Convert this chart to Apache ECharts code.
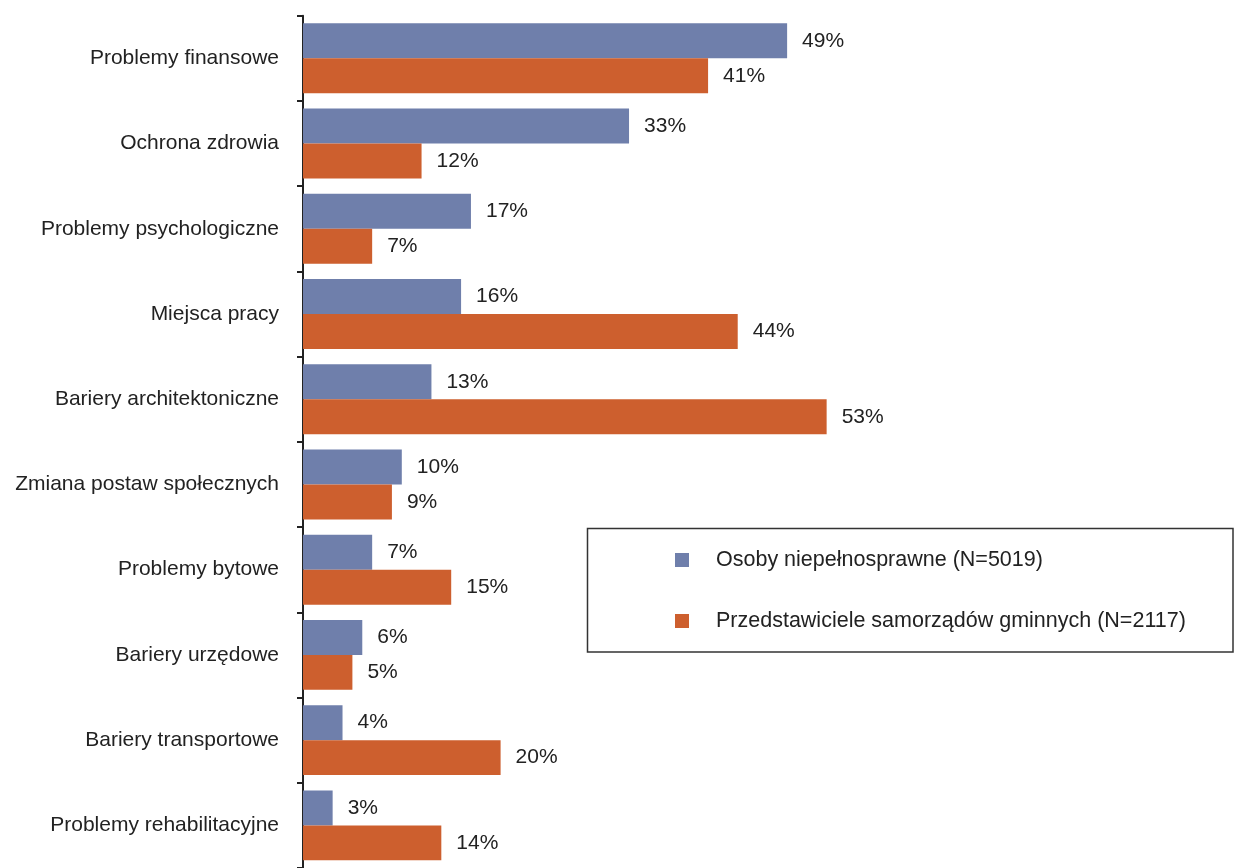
<!DOCTYPE html>
<html>
<head>
<meta charset="utf-8">
<script src="https://cdn.jsdelivr.net/npm/echarts@6/dist/echarts.min.js"></script>
<style>
html,body{margin:0;padding:0;background:#fff;}
#main{width:1235px;height:868px;}
</style>
</head>
<body>
<div id="main"></div>
<script>
var categories = [
  "Problemy finansowe",
  "Ochrona zdrowia",
  "Problemy psychologiczne",
  "Miejsca pracy",
  "Bariery architektoniczne",
  "Zmiana postaw społecznych",
  "Problemy bytowe",
  "Bariery urzędowe",
  "Bariery transportowe",
  "Problemy rehabilitacyjne"
];
var seriesNames = [
  "Osoby niepełnosprawne (N=5019)",
  "Przedstawiciele samorządów gminnych (N=2117)"
];
var osobyValues = [49, 33, 17, 16, 13, 10, 7, 6, 4, 3];
var samorzadyValues = [41, 12, 7, 44, 53, 9, 15, 5, 20, 14];

var FONT = '"Liberation Sans", Arial, Helvetica, sans-serif';
var TXT = '#222222';

var chart = echarts.init(document.getElementById('main'), null, {renderer: 'canvas'});
var labelCfg = {
  show: true,
  position: 'right',
  distance: 15,
  fontSize: 21,
  fontFamily: FONT,
  color: TXT,
  formatter: '{c}%'
};
chart.setOption({
  backgroundColor: '#ffffff',
  animation: false,
  grid: {left: 303, top: 15.7, width: 592.8, height: 857, containLabel: false},
  xAxis: {
    type: 'value',
    min: 0,
    max: 60,
    show: false
  },
  yAxis: {
    type: 'category',
    inverse: true,
    data: categories,
    axisLine: {show: true, lineStyle: {color: '#222', width: 2}},
    axisTick: {show: true, length: 6, inside: false, alignWithLabel: false, lineStyle: {color: '#222', width: 2}},
    axisLabel: {fontSize: 21, fontFamily: FONT, color: TXT, margin: 24},
    splitLine: {show: false}
  },
  legend: {
    orient: 'vertical',
    left: 670,
    top: 544,
    padding: 5,
    itemWidth: 14,
    itemHeight: 14,
    itemGap: 39,
    icon: 'rect',
    textStyle: {fontSize: 21.5, fontFamily: FONT, color: TXT, padding: [0, 0, 0, 22]},
    data: seriesNames
  },
  graphic: [{
    type: 'rect',
    shape: {x: 587.5, y: 528.5, width: 645.5, height: 123.5},
    style: {fill: 'none', stroke: '#333', lineWidth: 1.5},
    z: -1
  }],
  series: [
    {
      name: seriesNames[0],
      type: 'bar',
      data: osobyValues,
      barGap: '0%',
      barCategoryGap: '18%',
      itemStyle: {color: '#6F7FAB'},
      label: labelCfg
    },
    {
      name: seriesNames[1],
      type: 'bar',
      data: samorzadyValues,
      barGap: '0%',
      barCategoryGap: '18%',
      itemStyle: {color: '#CD5F2E'},
      label: labelCfg
    }
  ]
});
</script>
</body>
</html>
